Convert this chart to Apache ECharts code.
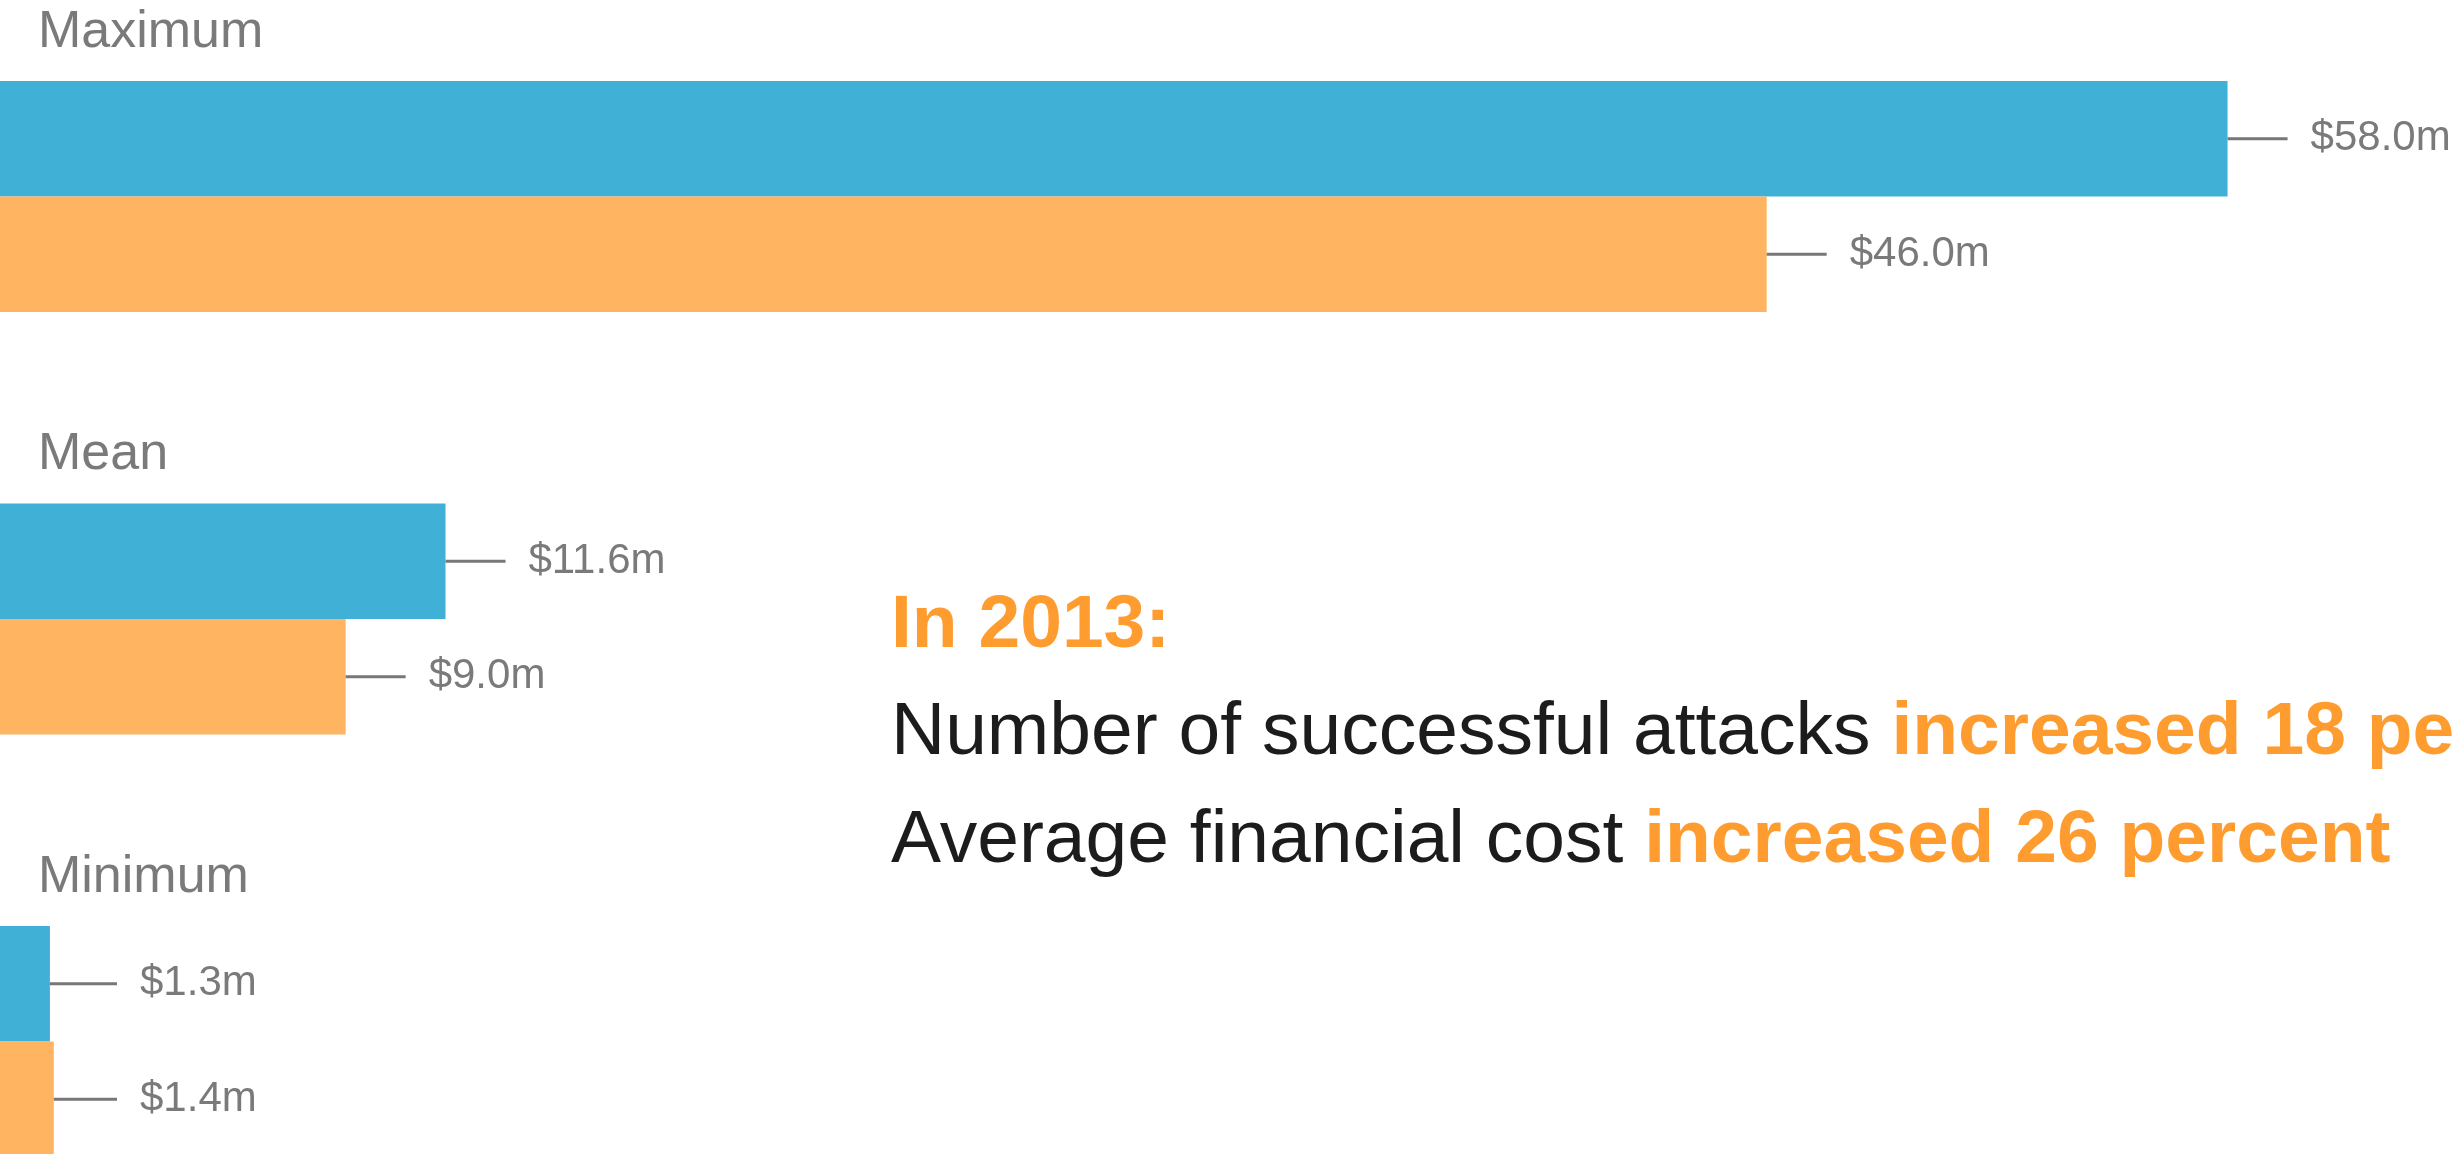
<!DOCTYPE html>
<html>
<head>
<meta charset="utf-8">
<script src="https://cdn.jsdelivr.net/npm/echarts@6/dist/echarts.min.js"></script>
<style>
  html, body { margin: 0; padding: 0; background: #fff; }
  #chart { width: 2458px; height: 1154px; }
</style>
</head>
<body>
<div id="chart"></div>
<script>
// 数据 ----------------
var categories = ['Maximum', 'Mean', 'Minimum'];
var cost2013 = [58.0, 11.6, 1.3];
var cost2012 = [46.0, 9.0, 1.4];
var headline = 'In 2013:';
var line1 = ['Number of successful attacks ', 'increased 18 percent'];
var line2 = ['Average financial cost ', 'increased 26 percent'];

var FONT = '"Liberation Sans", Arial, Helvetica, sans-serif';
var GREY = '#7a7a7a';
var ORANGE_TXT = '#ff9c30';
var LEADER = 60;      // 引线最短长度
var LEADER_END = 117; // 引线最少要伸到这个x

var myChart = echarts.init(document.getElementById('chart'));

// 柱子右侧的引线 + 数值
function valueLabel(len) {
  return {
    show: true,
    position: 'right',
    distance: 0,
    formatter: function (p) {
      return '{l|}{v|$' + p.value.toFixed(1) + 'm}';
    },
    rich: {
      l: { width: len, height: 3, backgroundColor: '#777', verticalAlign: 'middle' },
      v: { fontFamily: FONT, fontSize: 42, color: GREY, padding: [0, 0, 0, 23] }
    }
  };
}

function barData(arr) {
  return arr.map(function (v) {
    return { value: v, label: valueLabel(LEADER) };
  });
}

var option = {
  backgroundColor: '#fff',
  animation: false,
  grid: { left: 0, right: 0, top: -14.75, bottom: -98.75, outerBoundsMode: 'none', containLabel: false },
  xAxis: { type: 'value', min: 0, max: 64, show: false },
  yAxis: {
    type: 'category',
    inverse: true,
    data: categories,
    axisLine: { show: false },
    axisTick: { show: false },
    splitLine: { show: false },
    axisLabel: {
      inside: true,
      margin: 38,
      fontFamily: FONT,
      fontSize: 52,
      color: GREY,
      lineHeight: 52,
      verticalAlign: 'bottom',
      padding: [0, 0, 138, 0]
    },
    z: 5
  },
  series: [
    {
      name: '2013',
      type: 'bar',
      data: barData(cost2013),
      barWidth: 115.5,
      barGap: 0,
      itemStyle: { color: '#41b0d7' }
    },
    {
      name: '2012',
      type: 'bar',
      data: barData(cost2012),
      barWidth: 115.5,
      barGap: 0,
      itemStyle: { color: '#ffb462' }
    }
  ],
  graphic: [
    {
      type: 'text',
      x: 891,
      y: 572.5,
      style: {
        text: '{h|' + headline + '}\n{a|' + line1[0] + '}{b|' + line1[1] + '}\n{a|' + line2[0] + '}{b|' + line2[1] + '}',
        align: 'left',
        verticalAlign: 'top',
        rich: {
          h: { fontFamily: FONT, fontSize: 75, fontWeight: 'bold', fill: ORANGE_TXT, lineHeight: 107.5 },
          a: { fontFamily: FONT, fontSize: 75, fill: '#1c1c1c', lineHeight: 107.5 },
          b: { fontFamily: FONT, fontSize: 75, fontWeight: 'bold', fill: ORANGE_TXT, lineHeight: 107.5 }
        }
      }
    }
  ]
};

myChart.setOption(option);

// 很短的柱子：引线拉长，数值不贴着柱子
function fixLeaders(arr) {
  return arr.map(function (v) {
    var end = myChart.convertToPixel({ gridIndex: 0 }, [v, 0])[0];
    return { value: v, label: valueLabel(Math.max(LEADER, LEADER_END - end)) };
  });
}
myChart.setOption({
  series: [
    { name: '2013', data: fixLeaders(cost2013) },
    { name: '2012', data: fixLeaders(cost2012) }
  ]
});
</script>
</body>
</html>
